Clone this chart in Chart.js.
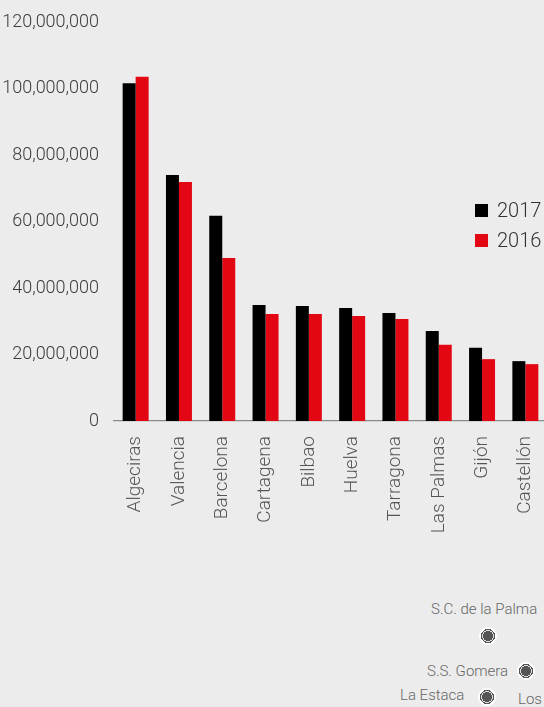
<!DOCTYPE html>
<html>
<head>
<meta charset="utf-8">
<script src="https://cdn.jsdelivr.net/npm/chart.js@4"></script>
<style>
    html, body {
        margin: 0;
        padding: 0;
        background: #ececec;
        width: 544px;
        height: 707px;
        overflow: hidden;
        font-family: Roboto, "Open Sans", sans-serif;
    }
    #wrap {
        position: absolute;
        left: 0;
        top: 0;
        width: 547px;
        height: 545px;
    }
    .legend-item {
        position: absolute;
        left: 475px;
        height: 20px;
        display: flex;
        align-items: center;
        font-size: 20px;
        font-weight: 300;
        color: #333;
    }
    .legend-item span.box {
        width: 13px;
        height: 13px;
        margin-right: 9px;
    }
    .place {
        position: absolute;
        font-size: 15px;
        font-weight: 300;
        color: #666;
        white-space: nowrap;
    }
    .marker {
        position: absolute;
        width: 18px;
        height: 18px;
        margin: -9px 0 0 -9px;
        border-radius: 50%;
        background: radial-gradient(circle, #555 0 5px, #ddd 5px 5.8px, #555 5.8px 7px, #fff 7px 9px);
    }
</style>
</head>
<body>

<div id="wrap"><canvas id="portChart"></canvas></div>
<div id="legend"></div>

<div class="place" style="left:431px; top:600px;">S.C. de la Palma</div>
<div class="marker" style="left:488px; top:636px;"></div>
<div class="place" style="left:427px; top:662px;">S.S. Gomera</div>
<div class="marker" style="left:526px; top:671px;"></div>
<div class="place" style="left:400px; top:686px;">La Estaca</div>
<div class="marker" style="left:487px; top:697px;"></div>
<div class="place" style="left:518px; top:690px;">Los</div>

<script>
// ===============================
// Port traffic by year
// ===============================
const ports = ["Algeciras", "Valencia", "Barcelona", "Cartagena", "Bilbao",
    "Huelva", "Tarragona", "Las Palmas", "Gijón", "Castellón"];

const years = ["2017", "2016"];
const yearColors = ["#000000", "#e30613"];

const traffic2017 = [101600000, 74000000, 61700000, 34900000, 34600000,
    34000000, 32500000, 27100000, 22000000, 18000000];
const traffic2016 = [103500000, 71900000, 49000000, 32200000, 32200000,
    31600000, 30700000, 22900000, 18600000, 17100000];

const yTicks = [0, 20000000, 40000000, 60000000, 80000000, 100000000, 120000000];

document.addEventListener("DOMContentLoaded", function () {

    const canvas = document.getElementById("portChart");

    const chart = new Chart(canvas, {

        type: "bar",

        data: {
            labels: ports,
            datasets: [
                { label: years[0], data: traffic2017, backgroundColor: yearColors[0] },
                { label: years[1], data: traffic2016, backgroundColor: yearColors[1] }
            ]
        },

        options: {
            responsive: true,
            maintainAspectRatio: false,
            animation: false,
            layout: { padding: { top: 22, left: 0, right: 0, bottom: 0 } },
            datasets: {
                bar: { barPercentage: 1, categoryPercentage: 0.6 }
            },
            plugins: {
                legend: { display: false },
                tooltip: { enabled: false }
            },
            scales: {
                x: {
                    grid: { display: false },
                    border: { display: true, color: "#8a8a8a", width: 1.2 },
                    ticks: {
                        color: "#555",
                        font: { family: "Roboto", size: 19, weight: 300 },
                        minRotation: 90,
                        maxRotation: 90,
                        padding: 7,
                        autoSkip: false
                    },
                    afterFit: function (scale) {
                        // rotated labels never spill sideways, drop the edge padding
                        scale.height = 124;
                        scale.paddingLeft = 0;
                        scale.paddingRight = 0;
                    }
                },
                y: {
                    min: yTicks[0],
                    max: yTicks[yTicks.length - 1],
                    grid: { display: false },
                    border: { display: false },
                    afterBuildTicks: function (scale) {
                        scale.ticks = yTicks.map(v => ({ value: v }));
                    },
                    ticks: {
                        color: "#3c3c3c",
                        font: { family: "Roboto", size: 18, weight: 300 },
                        padding: 7,
                        callback: v => v.toLocaleString("en-US")
                    },
                    afterFit: function (scale) { scale.width = 114; }
                }
            }
        }
    });

    // HTML legend sitting over the chart on the right
    const legend = document.getElementById("legend");
    chart.data.datasets.forEach((ds, i) => {
        const item = document.createElement("div");
        item.className = "legend-item";
        item.style.top = (200 + i * 30) + "px";
        item.innerHTML = '<span class="box" style="background:' + ds.backgroundColor + '"></span>' + ds.label;
        legend.appendChild(item);
    });

});
</script>
</body>
</html>
